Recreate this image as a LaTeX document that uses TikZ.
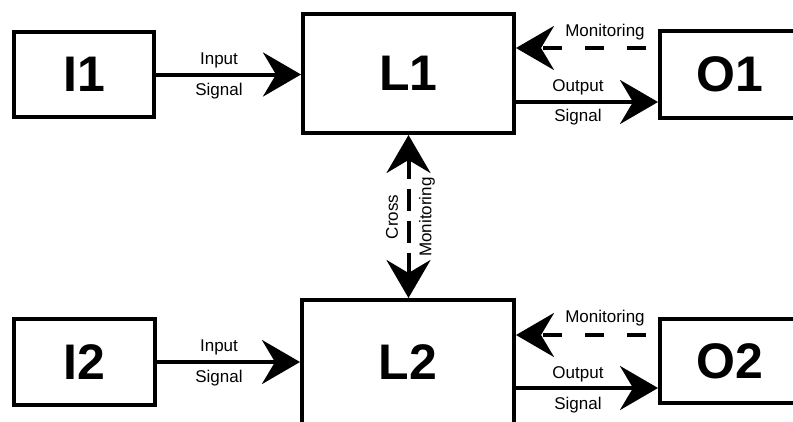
\documentclass[tikz,border=0pt]{standalone}
\usepackage{fontspec}
\setmainfont{Liberation Sans}
\usetikzlibrary{arrows.meta}
\tikzset{
  tip/.tip={Stealth[length=38pt,width=44pt,inset=13pt]},
  blk/.style={draw, line width=4pt, font=\fontsize{50}{50}\selectfont\bfseries, inner sep=0pt},
  lbl/.style={font=\fontsize{17}{17}\selectfont, inner sep=0pt},
  conn/.style={line width=4pt, -tip},
  mon/.style={conn, dash pattern=on 19pt off 23pt, dash phase=30pt},
  cross/.style={line width=4pt, tip-tip, dash pattern=on 22pt off 10pt, dash phase=2pt}
}
\begin{document}
\begin{tikzpicture}[x=1pt,y=-1pt]
\useasboundingbox (0,0) rectangle (793,421);
\fill[white] (0,0) rectangle (793,421);
\clip (0,0) rectangle (793,421);
% boxes
\node[blk, minimum width=140pt, minimum height=85pt] (I1) at (84,74.5) {I1};
\node[blk, minimum width=211pt, minimum height=119pt] (L1) at (408.5,73.5) {L1};
\node[blk, minimum width=140pt, minimum height=87pt] (O1) at (730,74.5) {O1};
\node[blk, minimum width=141pt, minimum height=86pt] (I2) at (84.5,362) {I2};
\node[blk, minimum width=212pt, minimum height=124pt] (L2) at (408,362) {L2};
\node[blk, minimum width=140pt, minimum height=84pt] (O2) at (730,361) {O2};
% row 1 connectors
\draw[conn] (I1.east) -- (I1.east -| L1.west);
\coordinate (o1s) at ([yshift=-28.5pt]L1.east);
\draw[conn] (o1s) -- (o1s -| O1.west);
\coordinate (m1s) at ([yshift=26.5pt]O1.west);
\draw[mon] (m1s) -- (m1s -| L1.east);
% row 2 connectors
\draw[conn] (I2.east) -- (I2.east -| L2.west);
\coordinate (o2s) at ([yshift=-26pt]L2.east);
\draw[conn] (o2s) -- (o2s -| O2.west);
\coordinate (m2s) at ([yshift=26pt]O2.west);
\draw[mon] (m2s) -- (m2s -| L2.east);
% cross monitoring
\draw[cross] (L1.south) -- (L1.south |- L2.north);
% labels
\node[lbl] (in1a) at (219,60) {Input};
\node[lbl] (in1b) at (219,91) {Signal};
\node[lbl] (out1a) at (578,87) {Output};
\node[lbl] (out1b) at (578,117) {Signal};
\node[lbl] (mon1) at (605,32) {Monitoring};
\node[lbl] (in2a) at (219,347) {Input};
\node[lbl] (in2b) at (219,378) {Signal};
\node[lbl] (out2a) at (578,374) {Output};
\node[lbl] (out2b) at (578,405) {Signal};
\node[lbl] (mon2) at (605,318) {Monitoring};
\node[lbl, rotate=90] (cr1) at (392,217) {Cross};
\node[lbl, rotate=90] (cr2) at (427,217) {Monitoring};
\end{tikzpicture}
\end{document}
